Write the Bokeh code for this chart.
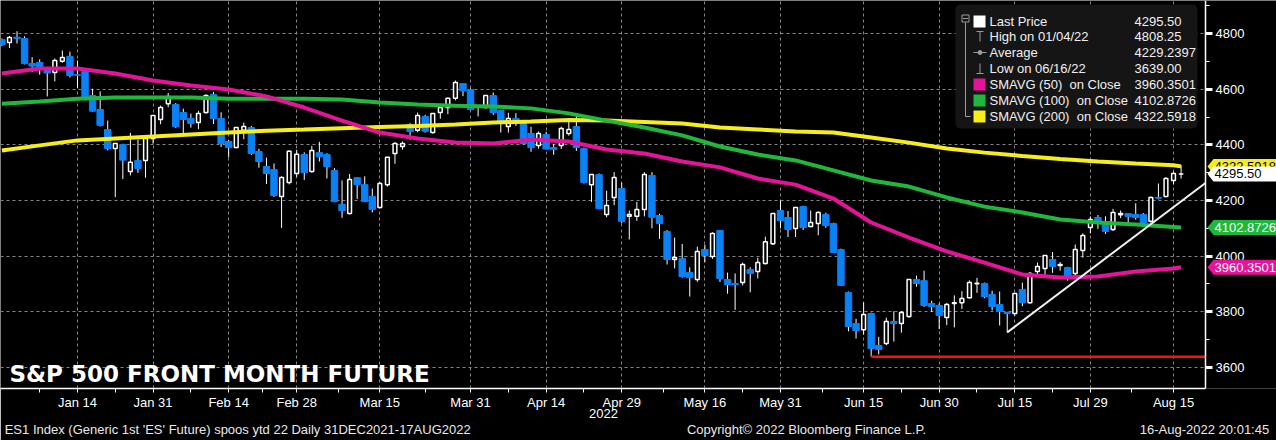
from bokeh.plotting import figure
from bokeh.models import (Range1d, FixedTicker, Label, BoxAnnotation, PolyAnnotation, ColumnDataSource,
                          LinearAxis)
from bokeh.embed import file_html
from bokeh.resources import INLINE

# ---------------- data ----------------
month_days = {
    "2021-12": [31],
    "2022-01": [3, 4, 5, 6, 7, 10, 11, 12, 13, 14, 18, 19, 20, 21, 24, 25, 26, 27, 28, 31],
    "2022-02": [1, 2, 3, 4, 7, 8, 9, 10, 11, 14, 15, 16, 17, 18, 22, 23, 24, 25, 28],
    "2022-03": [1, 2, 3, 4, 7, 8, 9, 10, 11, 14, 15, 16, 17, 18, 21, 22, 23, 24, 25, 28, 29, 30, 31],
    "2022-04": [1, 4, 5, 6, 7, 8, 11, 12, 13, 14, 18, 19, 20, 21, 22, 25, 26, 27, 28, 29],
    "2022-05": [2, 3, 4, 5, 6, 9, 10, 11, 12, 13, 16, 17, 18, 19, 20, 23, 24, 25, 26, 27, 31],
    "2022-06": [1, 2, 3, 6, 7, 8, 9, 10, 13, 14, 15, 16, 17, 21, 22, 23, 24, 27, 28, 29, 30],
    "2022-07": [1, 5, 6, 7, 8, 11, 12, 13, 14, 15, 18, 19, 20, 21, 22, 25, 26, 27, 28, 29],
    "2022-08": [1, 2, 3, 4, 5, 8, 9, 10, 11, 12, 15, 16],
}
dates = [f"{m}-{d:02d}" for m, days in month_days.items() for d in days]

opens = [4778, 4768, 4787, 4782, 4692, 4696, 4667, 4660, 4700, 4717,
         4652, 4663, 4577, 4527, 4455, 4387, 4401, 4304, 4344, 4344,
         4423, 4491, 4548, 4545, 4516, 4495, 4480, 4516, 4581, 4495,
         4412, 4390, 4452, 4462, 4376, 4322, 4311, 4214, 4265, 4297,
         4365, 4304, 4372, 4365, 4308, 4186, 4153, 4282, 4257, 4214,
         4175, 4257, 4369, 4394, 4473, 4452, 4502, 4444, 4516, 4534,
         4567, 4620, 4599, 4538, 4534, 4577, 4523, 4466, 4495, 4484,
         4441, 4398, 4437, 4390, 4398, 4441, 4466, 4387, 4257, 4293,
         4150, 4211, 4243, 4143, 4143, 4168, 4290, 4146, 4089, 3988,
         3991, 3941, 3916, 4024, 3999, 4092, 3916, 3902, 3905, 3952,
         3945, 3974, 4045, 4164, 4139, 4099, 4178, 4107, 4117, 4150,
         4117, 4024, 3869, 3758, 3736, 3794, 3679, 3686, 3765, 3758,
         3783, 3916, 3912, 3830, 3823, 3780, 3830, 3833, 3851, 3901,
         3902, 3862, 3826, 3798, 3794, 3880, 3833, 3945, 3956, 3988,
         3966, 3959, 3938, 4020, 4103, 4139, 4121, 4096, 4149, 4153,
         4150, 4150, 4125, 4211, 4214, 4272, 4295.25]
highs = [4782, 4791, 4808.25, 4790, 4715, 4707, 4675, 4710, 4739, 4735,
         4703, 4668, 4602, 4592, 4487, 4407, 4404, 4443, 4419, 4424,
         4507, 4541, 4586, 4550, 4530, 4512, 4522, 4581, 4590, 4517,
         4417, 4464, 4480, 4468, 4386, 4354, 4333, 4287, 4380, 4382,
         4373, 4396, 4411, 4370, 4316, 4272, 4295, 4284, 4287, 4243,
         4267, 4355, 4409, 4412, 4478, 4516, 4508, 4514, 4540, 4569,
         4631, 4622, 4603, 4543, 4578, 4588, 4526, 4515, 4514, 4487,
         4465, 4448, 4447, 4404, 4465, 4482, 4507, 4390, 4293, 4297,
         4235, 4302, 4264, 4164, 4195, 4302, 4302, 4152, 4094, 4067,
         4044, 3960, 4034, 4041, 4086, 4094, 3941, 3938, 3977, 3960,
         3994, 4070, 4153, 4200, 4162, 4177, 4181, 4164, 4161, 4156,
         4120, 4027, 3873, 3775, 3834, 3797, 3710, 3779, 3802, 3803,
         3918, 3930, 3948, 3840, 3830, 3832, 3859, 3874, 3913, 3922,
         3905, 3876, 3873, 3800, 3868, 3905, 3943, 3977, 4003, 4015,
         3979, 3962, 4042, 4082, 4143, 4148, 4143, 4170, 4164, 4155,
         4190, 4155, 4214, 4261, 4284, 4304, 4326]
lows = [4755, 4748, 4764, 4689, 4661, 4652, 4574, 4628, 4695, 4642,
        4605, 4560, 4518, 4466, 4380, 4212, 4277, 4290, 4299, 4282,
        4404, 4474, 4535, 4461, 4442, 4462, 4456, 4512, 4475, 4392,
        4355, 4388, 4420, 4364, 4318, 4259, 4213, 4101.75, 4258, 4285,
        4274, 4300, 4340, 4279, 4194, 4138, 4150, 4205, 4195, 4157,
        4172, 4250, 4332, 4383, 4418, 4445, 4444, 4440, 4494, 4510,
        4560, 4575, 4524, 4502, 4530, 4508, 4444, 4444, 4468, 4402,
        4375, 4386, 4384, 4364, 4385, 4433, 4378, 4261, 4195, 4169,
        4140, 4183, 4118, 4060, 4127, 4143, 4100, 4062, 3970, 3956,
        3923, 3855, 3908, 3978, 3990, 3907, 3865, 3807, 3895, 3870,
        3920, 3970, 4040, 4100, 4069, 4069, 4094, 4104, 4075, 4102,
        4012, 3893, 3730, 3704, 3718, 3639, 3647, 3680, 3693, 3725,
        3779, 3890, 3818, 3799, 3738, 3752, 3744, 3810, 3848, 3868,
        3849, 3805, 3751, 3726, 3786, 3820, 3830, 3925, 3929, 3940,
        3948, 3912, 3925, 3995, 4082, 4098, 4080, 4090, 4137, 4110,
        4131, 4114, 4120, 4204, 4212, 4258, 4279]
closes = [4760, 4786, 4782, 4692, 4683, 4671, 4658, 4703, 4714, 4649,
          4650, 4572, 4521, 4470, 4387, 4405, 4345, 4337, 4315, 4423,
          4505, 4534, 4574, 4466, 4491, 4477, 4513, 4577, 4495, 4405,
          4390, 4462, 4466, 4369, 4340, 4297, 4218, 4283, 4377, 4366,
          4300, 4380, 4357, 4322, 4196, 4164, 4275, 4257, 4196, 4168,
          4261, 4355, 4405, 4405, 4448, 4505, 4449, 4513, 4534, 4567,
          4624, 4594, 4527, 4535, 4577, 4516, 4477, 4495, 4488, 4405,
          4390, 4441, 4385, 4384, 4459, 4455, 4390, 4265, 4293, 4171,
          4182, 4283, 4125, 4150, 4168, 4293, 4140, 4117, 3988, 3995,
          3927, 3923, 4017, 4002, 4081, 3920, 3898, 3898, 3970, 3938,
          3977, 4052, 4153, 4128, 4096, 4175, 4103, 4121, 4157, 4110,
          4013, 3895, 3747, 3733, 3790, 3668, 3665, 3765, 3758, 3798,
          3916, 3902, 3823, 3819, 3787, 3826, 3833, 3848, 3905, 3903,
          3855, 3819, 3801, 3794, 3866, 3833, 3938, 3963, 4002, 3963,
          3970, 3923, 4024, 4074, 4132, 4121, 4089, 4157, 4153, 4143,
          4139, 4121, 4211, 4208, 4279, 4297, 4295.5]

sma_dates = ["2021-12-31", "2022-01-07", "2022-01-14", "2022-01-24", "2022-01-31", "2022-02-07",
             "2022-02-14", "2022-02-22", "2022-03-01", "2022-03-08", "2022-03-15", "2022-03-22",
             "2022-03-29", "2022-04-05", "2022-04-12", "2022-04-20", "2022-04-27", "2022-05-04",
             "2022-05-11", "2022-05-18", "2022-05-25", "2022-06-02", "2022-06-09", "2022-06-16",
             "2022-06-24", "2022-07-01", "2022-07-11", "2022-07-18", "2022-07-25", "2022-08-01",
             "2022-08-08", "2022-08-15", "2022-08-16"]
sma50 = [4656, 4674, 4674, 4656, 4631, 4613, 4599, 4574, 4534, 4487, 4444, 4423,
         4408, 4405, 4419, 4412, 4383, 4369, 4340, 4319, 4279, 4257, 4207, 4121,
         4067, 4017, 3977, 3934, 3923, 3927, 3945, 3956, 3960.3501]
sma100 = [4548, 4556, 4566, 4570, 4570, 4570, 4566, 4566, 4566, 4563, 4552, 4545,
          4540, 4538, 4531, 4513, 4487, 4462, 4434, 4394, 4365, 4344, 4308, 4272,
          4250, 4211, 4178, 4157, 4132, 4121, 4114, 4105, 4102.8726]
sma200 = [4380, 4398, 4416, 4423, 4430, 4437, 4444, 4451, 4455, 4460, 4464, 4468,
          4473, 4480, 4484, 4489, 4487, 4482, 4477, 4462, 4455, 4448, 4444, 4426,
          4408, 4387, 4372, 4360, 4349, 4340, 4333, 4327, 4322.5918]

tick_dates = ["2022-01-14", "2022-01-31", "2022-02-14", "2022-02-28", "2022-03-15", "2022-03-31",
              "2022-04-14", "2022-04-29", "2022-05-16", "2022-05-31", "2022-06-15", "2022-06-30",
              "2022-07-15", "2022-07-29", "2022-08-15"]
tick_labels = ["Jan 14", "Jan 31", "Feb 14", "Feb 28", "Mar 15", "Mar 31", "Apr 14", "Apr 29",
               "May 16", "May 31", "Jun 15", "Jun 30", "Jul 15", "Jul 29", "Aug 15"]
price_ticks = [3600, 3800, 4000, 4200, 4400, 4600, 4800]
price_minor = [3700, 3900, 4100, 4300, 4500, 4700, 4900]

# the price axis sits 3.2 trading days after the last bar
axis_position = 159.23
trend_dates = ["2022-07-14"]
trend_values = [3726, 4263]          # at Jul 14 low and where it meets the price axis
support_date = "2022-06-16"
support_value = 3639.0
average_value = "4229.2397"

footer_texts = ["ES1 Index (Generic 1st 'ES' Future) spoos ytd 22  Daily 31DEC2021-17AUG2022",
                "Copyright\u00a9 2022 Bloomberg Finance L.P.",
                "16-Aug-2022 20:01:45"]
year_text = "2022"

# ---------------- styling ----------------
BLUE = "#0a82f5"
PINK = "#e5139a"
GREEN = "#1fb83c"
YELLOW = "#f6ee1c"
GRIDC = "#858585"
FONT = "Liberation Sans"

W, H = 1276, 440
FRAME_H = 388
X0 = -0.185
SX = 1205 / (axis_position - X0)     # pixels per trading day
X1 = X0 + W / SX
Y0, Y1 = 3524.5, 4918.6
SY = FRAME_H / (Y1 - Y0)             # pixels per index point


def px2x(px):
    return X0 + px / SX


def py2y(py):
    return Y1 - py / SY


idx = {d: i for i, d in enumerate(dates)}
xs = list(range(len(dates)))

p = figure(width=W, height=H, x_range=Range1d(X0, X1), y_range=Range1d(Y0, Y1),
           y_axis_location="right", toolbar_location=None, output_backend="svg",
           background_fill_color="black", border_fill_color="black", outline_line_color=None,
           min_border=0)
p.min_border_left = 0
p.min_border_top = 0
p.min_border_right = 0
p.min_border_bottom = H - FRAME_H

# axes
tick_x = [idx[d] for d in tick_dates]
minor_x = [tick_x[0] - 5] + [(a + b) / 2 for a, b in zip(tick_x[:-1], tick_x[1:])]
p.xaxis.ticker = FixedTicker(ticks=tick_x, minor_ticks=minor_x)
p.xaxis.major_label_overrides = {t: l for t, l in zip(tick_x, tick_labels)}
p.xaxis.bounds = (X0, axis_position)
p.yaxis.ticker = FixedTicker(ticks=price_ticks, minor_ticks=price_minor)
p.yaxis.fixed_location = axis_position
for ax in (p.xaxis[0], p.yaxis[0]):
    ax.axis_line_color = "white"
    ax.axis_line_width = 1.5
    ax.major_tick_line_color = "white"
    ax.minor_tick_line_color = "white"
    ax.major_tick_in = 0
    ax.minor_tick_in = 0
    ax.major_label_text_color = "white"
    ax.major_label_text_font = FONT
    ax.major_label_text_font_size = "13px"
p.xaxis.major_tick_out = 4
p.xaxis.minor_tick_out = 4
p.xaxis.major_label_standoff = 2
p.yaxis.major_tick_out = 7
p.yaxis.major_tick_line_width = 3
p.yaxis.minor_tick_out = 4
p.yaxis.major_label_standoff = 3


def text_axis(ticks, labels, standoff, color, size="13px"):
    return LinearAxis(ticker=FixedTicker(ticks=ticks, minor_ticks=[]),
                      major_label_overrides={t: s for t, s in zip(ticks, labels)},
                      axis_line_color=None, major_tick_line_color=None, minor_tick_line_color=None,
                      major_tick_out=0, major_tick_in=0, minor_tick_out=0, minor_tick_in=0,
                      major_label_standoff=standoff, major_label_text_color=color,
                      major_label_text_font=FONT, major_label_text_font_size=size)


# year row and footer row below the date axis
p.add_layout(text_axis([px2x(603)], [year_text], -4, "white"), "below")
foot_centres = [px2x(4 + 235), px2x(806), px2x(1204)]
p.add_layout(text_axis(foot_centres, footer_texts, 1, "#e8e8e8"), "below")

p.xgrid.ticker = FixedTicker(ticks=tick_x)
p.ygrid.ticker = FixedTicker(ticks=price_ticks)
p.ygrid.cross_bounds = (X0, axis_position)
for g in (p.xgrid[0], p.ygrid[0]):
    g.grid_line_color = GRIDC
    g.grid_line_dash = "3 3"
    g.grid_line_width = 1

# candles
src = ColumnDataSource(dict(x=xs, o=opens, h=highs, l=lows, c=closes))
up = [i for i in xs if closes[i] >= opens[i]]
dn = [i for i in xs if closes[i] < opens[i]]
up_src = ColumnDataSource(dict(x=up, o=[opens[i] for i in up], c=[closes[i] for i in up]))
dn_src = ColumnDataSource(dict(x=dn, o=[opens[i] for i in dn], c=[closes[i] for i in dn]))
p.segment(x0="x", y0="l", x1="x", y1="h", source=src, line_color="white", line_width=1)
p.vbar(x="x", width=0.85, top="o", bottom="c", source=dn_src, fill_color=BLUE, line_color=BLUE, line_width=1)
p.vbar(x="x", width=0.5, top="c", bottom="o", source=up_src, fill_color="black", line_color="white", line_width=1.5)

# moving averages
sx = [idx[d] for d in sma_dates]
p.line(sx, sma200, line_color=YELLOW, line_width=4)
p.line(sx, sma100, line_color=GREEN, line_width=4)
p.line(sx, sma50, line_color=PINK, line_width=4)

# trend & support lines (both run up to the price axis)
p.segment(x0=[idx[trend_dates[0]]], y0=[trend_values[0]], x1=[axis_position], y1=[trend_values[1]],
          line_color="#f2f2f2", line_width=2)
p.segment(x0=[idx[support_date]], y0=[support_value], x1=[axis_position], y1=[support_value],
          line_color="#ff1010", line_width=2.5)

# title
p.add_layout(Label(x=px2x(9), y=py2y(373), text="S&P 500 FRONT MONTH FUTURE", text_color="white",
                   text_font="DejaVu Sans", text_font_style="bold", text_font_size="23px",
                   text_baseline="alphabetic", text_align="left"))

# legend box
p.add_layout(BoxAnnotation(left=px2x(955), right=px2x(1197), top=py2y(4), bottom=py2y(128),
                           fill_color="#151515", fill_alpha=1, line_color=None, border_radius=5))
rows_y = [21, 36, 52, 68, 84, 100, 116]
hi_i = highs.index(max(highs))
lo_i = lows.index(min(lows))


def mdY(d):
    y, m, dd = d.split("-")
    return f"{m}/{dd}/{y[2:]}"


NB = "\u00a0"
legend_names = ["Last Price", f"High on {mdY(dates[hi_i])}", "Average", f"Low on {mdY(dates[lo_i])}",
                f"SMAVG (50) {NB}on Close", f"SMAVG (100) {NB}on Close", f"SMAVG (200) {NB}on Close"]
legend_vals = [f"{closes[-1]:.2f}", f"{highs[hi_i]:.2f}", average_value, f"{lows[lo_i]:.2f}",
               f"{sma50[-1]:.4f}", f"{sma100[-1]:.4f}", f"{sma200[-1]:.4f}"]
for ry, nm, vl in zip(rows_y, legend_names, legend_vals):
    p.add_layout(Label(x=px2x(989), y=py2y(ry), text=nm, text_color="#f0f0f0", text_font=FONT,
                       text_font_size="13px", text_baseline="middle", text_align="left"))
    p.add_layout(Label(x=px2x(1134), y=py2y(ry), text=vl, text_color="#f0f0f0", text_font=FONT,
                       text_font_size="13px", text_baseline="middle", text_align="left"))

GRAY = "#9c9c9c"
seg = dict(x0=[px2x(965), px2x(965), px2x(976), px2x(979.5), px2x(973), px2x(979.5), px2x(976), px2x(962.5)],
           y0=[py2y(22), py2y(116), py2y(31), py2y(31), py2y(52), py2y(63), py2y(73), py2y(18)],
           x1=[px2x(965), px2x(970), px2x(983), px2x(979.5), px2x(986), px2x(979.5), px2x(983), px2x(967.5)],
           y1=[py2y(116), py2y(116), py2y(31), py2y(41), py2y(52), py2y(73), py2y(73), py2y(18)])
p.segment(x0="x0", y0="y0", x1="x1", y1="y1", source=ColumnDataSource(seg), line_color=GRAY,
          line_width=1, level="overlay")
p.scatter([px2x(965)], [py2y(18)], marker="square", size=7, fill_color=None, line_color=GRAY, level="overlay")
p.scatter([px2x(979.5)], [py2y(52)], marker="circle", size=4, fill_color=GRAY, line_color=GRAY, level="overlay")
p.scatter([px2x(979)] * 4, [py2y(rows_y[0]), py2y(rows_y[4]), py2y(rows_y[5]), py2y(rows_y[6])],
          marker="square", size=12, fill_color=["white", PINK, GREEN, YELLOW], line_color=None, level="overlay")

# price tags beside the price axis
tags = [(sma200[-1], legend_vals[6], YELLOW, "black"),
        (closes[-1], legend_vals[0], "white", "black"),
        (sma100[-1], legend_vals[5], GREEN, "white"),
        (sma50[-1], legend_vals[4], PINK, "white")]
half = 7.5 / SY
for val, txt, bg, fg in tags:
    p.add_layout(PolyAnnotation(xs=[px2x(1207), px2x(1213), px2x(1277), px2x(1277), px2x(1213)],
                                ys=[val, val + half, val + half, val - half, val - half],
                                fill_color=bg, fill_alpha=1, line_color=None))
    p.add_layout(Label(x=px2x(1214), y=val, text=txt, text_color=fg, text_font=FONT,
                       text_font_size="13px", text_baseline="middle", text_align="left"))

open("out.html", "w").write(file_html(p, INLINE))
